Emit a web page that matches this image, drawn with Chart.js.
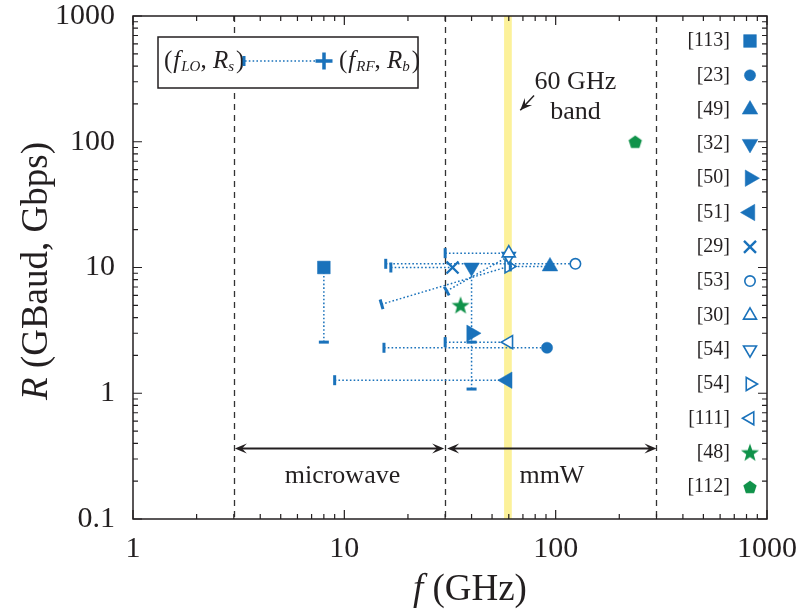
<!DOCTYPE html>
<html>
<head>
<meta charset="utf-8">
<style>
  html, body { margin: 0; padding: 0; background: #fff; }
  #wrap { width: 802px; height: 616px; }
</style>
<script src="https://cdn.jsdelivr.net/npm/chart.js@4.4.1/dist/chart.umd.min.js"></script>
</head>
<body>
<div id="wrap"><canvas id="chart" width="802" height="616"></canvas></div>
<script>
// reference tags (legend order, top to bottom)
const references = ["[113]", "[23]", "[49]", "[32]", "[50]", "[51]", "[29]", "[53]", "[30]", "[54]", "[54]", "[111]", "[48]", "[112]"];
// LO point (f_LO in GHz, R_s) -- null when not reported
const fLO = [8, 15.4, 61, 40, 40, 9, 16.6, 15.7, 30, 30.5, 15, 30, null, null];
const rLO = [2.55, 2.3, 10.2, 2.55, 1.08, 1.27, 10, 10.7, 13, 6.5, 5.1, 2.55, null, null];
// RF point (f_RF in GHz, R_b)
const fRF = [8, 91, 94, 40, 40, 59, 32.5, 124, 60, 60, 60, 60, 35.5, 238];
const rRF = [10, 2.3, 10.2, 10, 3, 1.27, 10, 10.7, 13, 12.3, 10.2, 2.55, 5, 100];

const xTickLabels = ["1", "10", "100", "1000"];
const yTickLabels = ["0.1", "1", "10", "100", "1000"];
const bandGHz = [57, 62];
const regionBounds = [3, 30, 300];

const BLUE = "#1a72bb";
const GREEN = "#10924a";
const INK = "#231f20";
const SERIF = '"Liberation Serif", "Times New Roman", serif';

// custom marker images (star, pentagon)
function polyCanvas(size, pts, color) {
  const c = document.createElement("canvas");
  c.width = size; c.height = size;
  const g = c.getContext("2d");
  g.fillStyle = color;
  g.beginPath();
  pts.forEach((p, i) => (i ? g.lineTo(p[0], p[1]) : g.moveTo(p[0], p[1])));
  g.closePath();
  g.fill();
  return c;
}
function starPts(size, ro, ri) {
  const pts = [];
  for (let i = 0; i < 10; i++) {
    const r = i % 2 ? ri : ro;
    const a = -Math.PI / 2 + i * Math.PI / 5;
    pts.push([size / 2 + r * Math.cos(a), size / 2 + 0.6 + r * Math.sin(a)]);
  }
  return pts;
}
function pentPts(size, r) {
  const pts = [];
  for (let i = 0; i < 5; i++) {
    const a = -Math.PI / 2 + i * 2 * Math.PI / 5;
    pts.push([size / 2 + r * Math.cos(a), size / 2 + 0.7 + r * Math.sin(a)]);
  }
  return pts;
}
const starImg = polyCanvas(20, starPts(20, 9.5, 3.9), GREEN);
const pentImg = polyCanvas(16, pentPts(16, 7), GREEN);

const markerStyle = ["rect", "circle", "triangle", "triangle", "triangle", "triangle", "crossRot", "circle", "triangle", "triangle", "triangle", "triangle", starImg, pentImg];
const markerRot = [0, 0, 0, 180, 90, 270, 0, 0, 0, 180, 90, 270, 0, 0];
const markerRadius = [9, 5.6, 9, 9, 9.5, 9.5, 8.5, 5.2, 7.5, 7.5, 7.5, 7.5, 10, 8];
const markerHollow = [false, false, false, false, false, false, false, true, true, true, true, true, false, false];
const markerColor = [BLUE, BLUE, BLUE, BLUE, BLUE, BLUE, BLUE, BLUE, BLUE, BLUE, BLUE, BLUE, GREEN, GREEN];

function capAngle(ctx) {
  const d = ctx.chart.data.datasets[ctx.datasetIndex].data;
  const xs = ctx.chart.scales.x, ys = ctx.chart.scales.y;
  const dx = xs.getPixelForValue(d[1].x) - xs.getPixelForValue(d[0].x);
  const dy = ys.getPixelForValue(d[1].y) - ys.getPixelForValue(d[0].y);
  return Math.atan2(dy, dx) * 180 / Math.PI + 90;
}

const datasets = references.map((ref, i) => {
  const hasLO = fLO[i] !== null;
  const data = hasLO ? [{ x: fLO[i], y: rLO[i] }, { x: fRF[i], y: rRF[i] }] : [{ x: fRF[i], y: rRF[i] }];
  const isCap = (c) => hasLO && c.dataIndex === 0;
  return {
    label: ref,
    data: data,
    showLine: hasLO,
    borderColor: BLUE,
    borderWidth: 1.5,
    borderDash: [1.6, 2.2],
    tension: 0,
    pointStyle: (c) => (isCap(c) ? "line" : markerStyle[i]),
    pointRotation: (c) => (isCap(c) ? capAngle(c) : markerRot[i]),
    pointRadius: (c) => (isCap(c) ? 5 : markerRadius[i]),
    pointBorderWidth: (c) => (isCap(c) ? 3 : markerHollow[i] ? 1.6 : i === 6 ? 2.4 : 0.5),
    pointBorderColor: (c) => (isCap(c) ? BLUE : markerColor[i]),
    pointBackgroundColor: (c) => (isCap(c) ? BLUE : markerHollow[i] ? "#fff" : markerColor[i]),
  };
});

function drawRich(ctx, parts, x, y, align) {
  let total = 0;
  parts.forEach((p) => { ctx.font = p.font; p.w = ctx.measureText(p.t).width + (p.gap || 0); total += p.w; });
  let cx = align === "center" ? x - total / 2 : x;
  parts.forEach((p) => { ctx.font = p.font; ctx.fillText(p.t, cx, y + (p.dy || 0)); cx += p.w; });
  return cx;
}

function arrowHead(ctx, x, y, ang) {
  const L = 12, W = 5;
  ctx.save();
  ctx.translate(x, y);
  ctx.rotate(ang);
  ctx.beginPath();
  ctx.moveTo(0, 0);
  ctx.lineTo(-L, -W);
  ctx.lineTo(-L * 0.6, 0);
  ctx.lineTo(-L, W);
  ctx.closePath();
  ctx.fill();
  ctx.restore();
}

function doubleArrow(ctx, x1, x2, y) {
  ctx.beginPath();
  ctx.moveTo(x1 + 4, y);
  ctx.lineTo(x2 - 4, y);
  ctx.stroke();
  arrowHead(ctx, x1, y, Math.PI);
  arrowHead(ctx, x2, y, 0);
}

function point(ctx, opts, x, y) {
  ctx.save();
  ctx.fillStyle = opts.fill;
  ctx.strokeStyle = opts.stroke;
  ctx.lineWidth = opts.borderWidth;
  Chart.helpers.drawPoint(ctx, opts, x, y);
  ctx.restore();
}

const decor = {
  id: "decor",
  beforeDatasetsDraw(chart) {
    const { ctx, chartArea: a, scales: { x, y } } = chart;
    ctx.save();
    // 60 GHz band
    ctx.fillStyle = "#fcf19a";
    const b0 = x.getPixelForValue(bandGHz[0]), b1 = x.getPixelForValue(bandGHz[1]);
    ctx.fillRect(b0, a.top, b1 - b0, a.bottom - a.top);
    // region bounds
    ctx.strokeStyle = "#333";
    ctx.lineWidth = 1.3;
    ctx.setLineDash([6, 5]);
    regionBounds.forEach((f) => {
      const px = Math.round(x.getPixelForValue(f)) + 0.5;
      ctx.beginPath();
      ctx.moveTo(px, a.top);
      ctx.lineTo(px, a.bottom);
      ctx.stroke();
    });
    ctx.setLineDash([]);
    // region arrows
    ctx.strokeStyle = INK;
    ctx.fillStyle = INK;
    ctx.lineWidth = 2;
    const ay = y.getPixelForValue(0.363);
    const p = regionBounds.map((f) => x.getPixelForValue(f));
    doubleArrow(ctx, p[0] + 1, p[1] - 1, ay);
    doubleArrow(ctx, p[1] + 2, p[2], ay);
    ctx.font = "26px " + SERIF;
    ctx.textAlign = "center";
    ctx.textBaseline = "middle";
    const ty = y.getPixelForValue(0.221);
    ctx.fillText("microwave", x.getPixelForValue(9.8), ty);
    ctx.fillText("mmW", x.getPixelForValue(96), ty);
    // 60 GHz band note
    ctx.fillText("60 GHz", x.getPixelForValue(124), y.getPixelForValue(296));
    ctx.fillText("band", x.getPixelForValue(124), y.getPixelForValue(171));
    const tx0 = x.getPixelForValue(79), ty0 = y.getPixelForValue(233);
    const tx1 = x.getPixelForValue(68), ty1 = y.getPixelForValue(178);
    ctx.lineWidth = 1.5;
    ctx.beginPath();
    ctx.moveTo(tx0, ty0);
    ctx.lineTo(tx1, ty1);
    ctx.stroke();
    arrowHead(ctx, tx1, ty1, Math.atan2(ty1 - ty0, tx1 - tx0));
    ctx.restore();
  },
  afterDatasetsDraw(chart) {
    const { ctx, chartArea: a, scales: { x, y } } = chart;
    ctx.save();
    // frame
    ctx.strokeStyle = INK;
    ctx.lineWidth = 1.5;
    ctx.strokeRect(a.left, a.top, a.right - a.left, a.bottom - a.top);
    // inward ticks, all four sides
    ctx.lineWidth = 1.2;
    ctx.beginPath();
    for (let e = 0; e <= 3; e++) {
      for (let m = 1; m <= 9; m++) {
        const v = m * Math.pow(10, e);
        if (v > 1000) break;
        const px = x.getPixelForValue(v);
        const L = m === 1 ? 9 : 5;
        ctx.moveTo(px, a.bottom); ctx.lineTo(px, a.bottom - L);
        ctx.moveTo(px, a.top); ctx.lineTo(px, a.top + L);
      }
    }
    for (let e = -1; e <= 3; e++) {
      for (let m = 1; m <= 9; m++) {
        const v = m * Math.pow(10, e);
        if (v > 1000) break;
        const py = y.getPixelForValue(v);
        const L = m === 1 ? 9 : 5;
        ctx.moveTo(a.left, py); ctx.lineTo(a.left + L, py);
        ctx.moveTo(a.right, py); ctx.lineTo(a.right - L, py);
      }
    }
    ctx.stroke();

    // top-left key box
    ctx.fillStyle = "#fff";
    ctx.fillRect(158, 37, 260, 51);
    ctx.strokeStyle = INK;
    ctx.lineWidth = 1.5;
    ctx.strokeRect(158, 37, 260, 51);
    ctx.fillStyle = INK;
    ctx.textAlign = "left";
    ctx.textBaseline = "middle";
    const N = "25px " + SERIF, I = "italic 25px " + SERIF, S = "italic 15px " + SERIF;
    drawRich(ctx, [
      { t: "(", font: N, gap: 1 }, { t: "f", font: I, gap: 1 }, { t: "LO", font: S, dy: 6 },
      { t: ", ", font: N }, { t: "R", font: I }, { t: "s", font: S, dy: 6, gap: 2 }, { t: ")", font: N },
    ], 164, 61);
    drawRich(ctx, [
      { t: "(", font: N, gap: 1 }, { t: "f", font: I, gap: 1 }, { t: "RF", font: S, dy: 6 },
      { t: ", ", font: N }, { t: "R", font: I }, { t: "b", font: S, dy: 6, gap: 2 }, { t: ")", font: N },
    ], 339, 61);
    ctx.strokeStyle = BLUE;
    ctx.lineWidth = 1.5;
    ctx.setLineDash([1.6, 2.2]);
    ctx.beginPath();
    ctx.moveTo(245, 61);
    ctx.lineTo(322, 61);
    ctx.stroke();
    ctx.setLineDash([]);
    point(ctx, { pointStyle: "line", rotation: 90, radius: 5, borderWidth: 3, fill: BLUE, stroke: BLUE }, 244, 61);
    point(ctx, { pointStyle: "cross", rotation: 0, radius: 8.5, borderWidth: 3.5, fill: BLUE, stroke: BLUE }, 324, 61);

    // reference legend
    ctx.font = "20px " + SERIF;
    ctx.textAlign = "right";
    references.forEach((ref, i) => {
      const ly = 41 + i * 34.3;
      ctx.fillStyle = INK;
      ctx.fillText(ref, 730, ly);
      point(ctx, {
        pointStyle: markerStyle[i], rotation: markerRot[i], radius: markerRadius[i],
        borderWidth: markerHollow[i] ? 1.6 : i === 6 ? 2.4 : 0.5,
        fill: markerHollow[i] ? "#fff" : markerColor[i], stroke: markerColor[i],
      }, 750, ly);
    });

    // axis titles
    ctx.fillStyle = INK;
    ctx.textAlign = "left";
    ctx.textBaseline = "middle";
    const TN = "37px " + SERIF, TI = "italic 37px " + SERIF;
    drawRich(ctx, [{ t: "f", font: TI, gap: 9 }, { t: "(GHz)", font: TN }], 470, 590, "center");
    ctx.save();
    ctx.translate(37, 271);
    ctx.rotate(-Math.PI / 2);
    drawRich(ctx, [{ t: "R", font: TI }, { t: " (GBaud, Gbps)", font: TN }], 0, 0, "center");
    ctx.restore();
    ctx.restore();
  },
};

new Chart(document.getElementById("chart"), {
  type: "scatter",
  data: { datasets: datasets },
  options: {
    responsive: false,
    devicePixelRatio: 1,
    animation: false,
    layout: { padding: { left: 0, right: 35, top: 16, bottom: 0 } },
    plugins: { legend: { display: false }, tooltip: { enabled: false } },
    scales: {
      x: {
        type: "logarithmic",
        min: 1,
        max: 1000,
        afterFit: (s) => { s.height = 97; s.paddingLeft = 0; s.paddingRight = 0; },
        afterBuildTicks: (s) => { s.ticks = xTickLabels.map((t) => ({ value: Number(t) })); },
        grid: { display: false },
        border: { display: false },
        ticks: {
          padding: 4,
          autoSkip: false,
          maxRotation: 0,
          color: INK,
          font: { family: SERIF, size: 30 },
          callback: (v, i) => xTickLabels[i],
        },
      },
      y: {
        type: "logarithmic",
        min: 0.1,
        max: 1000,
        afterFit: (s) => { s.width = 133; s.paddingTop = 0; s.paddingBottom = 0; },
        afterBuildTicks: (s) => { s.ticks = yTickLabels.map((t) => ({ value: Number(t) })); },
        grid: { display: false },
        border: { display: false },
        ticks: {
          padding: 10,
          autoSkip: false,
          color: INK,
          font: { family: SERIF, size: 30 },
          callback: (v, i) => yTickLabels[i],
        },
      },
    },
  },
  plugins: [decor],
});
</script>
</body>
</html>
